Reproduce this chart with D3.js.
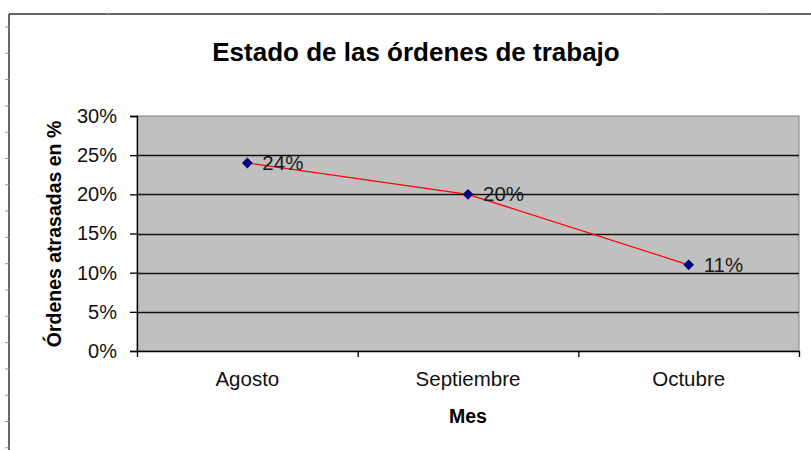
<!DOCTYPE html>
<html><head><meta charset="utf-8">
<script src="https://cdn.jsdelivr.net/npm/d3@7"></script>
<style>
html,body{margin:0;padding:0;background:#fff;}
svg{display:block;font-family:Arial,"Liberation Sans",sans-serif;}
</style></head>
<body>
<svg id="c" width="811" height="450"></svg>
<script>
const categories = ["Agosto", "Septiembre", "Octubre"];
const values = [0.24, 0.20, 0.11];
const valueLabels = ["24%", "20%", "11%"];
const yTicks = [0, 0.05, 0.10, 0.15, 0.20, 0.25, 0.30];
const title = "Estado de las órdenes de trabajo";
const yTitle = "Órdenes atrasadas en %";
const xTitle = "Mes";

const svg = d3.select("#c");
const W = 811, H = 450;
const plot = {left: 137, right: 799, top: 116, bottom: 351};

// outer frame (chart area edges)
svg.append("line").attr("x1", 9).attr("x2", 9).attr("y1", 14).attr("y2", H)
  .attr("stroke", "#333").attr("stroke-width", 1.5);
svg.append("line").attr("x1", 9).attr("x2", W).attr("y1", 14).attr("y2", 14)
  .attr("stroke", "#333").attr("stroke-width", 1.5);
// small ruler marks along the left and top frame
svg.append("g").selectAll("line").data(d3.range(27, H, 26.3)).join("line")
  .attr("x1", 5).attr("x2", 9).attr("y1", d => d).attr("y2", d => d)
  .attr("stroke", "#999").attr("stroke-width", 1);
svg.append("g").selectAll("line").data([108, 659, 765]).join("line")
  .attr("x1", d => d).attr("x2", d => d).attr("y1", 12).attr("y2", 14)
  .attr("stroke", "#bbb").attr("stroke-width", 1);

const x = d3.scaleBand().domain(categories).range([plot.left, plot.right]).paddingInner(0).paddingOuter(0);
const y = d3.scaleLinear().domain([0, 0.30]).range([plot.bottom, plot.top]);

// plot area
svg.append("rect").attr("x", plot.left).attr("y", plot.top)
  .attr("width", plot.right - plot.left).attr("height", plot.bottom - plot.top)
  .attr("fill", "#c0c0c0").attr("stroke", "#808080").attr("stroke-width", 1);

// gridlines
svg.append("g").selectAll("line").data(yTicks.filter(d => d > 0 && d < 0.30)).join("line")
  .attr("x1", plot.left).attr("x2", plot.right)
  .attr("y1", d => Math.round(y(d)) + 0.5).attr("y2", d => Math.round(y(d)) + 0.5)
  .attr("stroke", "#111").attr("stroke-width", 1.3);

// y axis
const yAxis = d3.axisLeft(y).tickValues(yTicks).tickFormat(d3.format(".0%")).tickSize(7).tickPadding(13);
const gy = svg.append("g").attr("transform", `translate(${plot.left},0)`).call(yAxis);
gy.select(".domain").attr("stroke", "#000").attr("stroke-width", 1.3);
gy.selectAll(".tick line").attr("stroke", "#000").attr("stroke-width", 1.3);
gy.selectAll(".tick text").attr("font-size", "20px").attr("fill", "#111")
  .attr("font-family", "Arial, 'Liberation Sans', sans-serif");

// x axis
const xBound = d3.scaleLinear().domain([0, categories.length]).range([plot.left, plot.right]);
const xAxis = d3.axisBottom(xBound).tickValues(d3.range(categories.length + 1)).tickFormat("").tickSize(6).tickSizeOuter(0);
const gx = svg.append("g").attr("transform", `translate(0,${plot.bottom})`).call(xAxis);
gx.select(".domain").attr("stroke", "#000").attr("stroke-width", 1.3);
gx.selectAll(".tick line").attr("stroke", "#000").attr("stroke-width", 1.3);
svg.append("g").selectAll("text").data(categories).join("text")
  .attr("x", d => x(d) + x.bandwidth() / 2).attr("y", plot.bottom + 35)
  .attr("text-anchor", "middle").attr("font-size", "20.5px").attr("fill", "#111").text(d => d);

// line
const cx = (d, i) => x(categories[i]) + x.bandwidth() / 2;
svg.append("path").datum(values)
  .attr("d", d3.line().x((d, i) => cx(d, i)).y(d => y(d)))
  .attr("fill", "none").attr("stroke", "#ff0000").attr("stroke-width", 1.2);

// markers
svg.append("g").selectAll("path").data(values).join("path")
  .attr("d", d3.symbol(d3.symbolSquare, 58)())
  .attr("transform", (d, i) => `translate(${cx(d, i)},${y(d)}) rotate(45)`)
  .attr("fill", "#000080");

// data labels
svg.append("g").selectAll("text").data(values).join("text")
  .attr("x", (d, i) => cx(d, i) + 15).attr("y", d => y(d) + 7)
  .attr("font-size", "20.5px").attr("fill", "#1a1a1a").text((d, i) => valueLabels[i]);

// titles
svg.append("text").attr("x", 416).attr("y", 61).attr("text-anchor", "middle")
  .attr("font-size", "26px").attr("font-weight", "bold").attr("fill", "#000").text(title);
svg.append("text").attr("transform", "translate(61,234) rotate(-90)").attr("text-anchor", "middle")
  .attr("font-size", "19.5px").attr("font-weight", "bold").attr("fill", "#000").text(yTitle);
svg.append("text").attr("x", (plot.left + plot.right) / 2).attr("y", 423).attr("text-anchor", "middle")
  .attr("font-size", "19.5px").attr("font-weight", "bold").attr("fill", "#000").text(xTitle);
</script>
</body></html>
